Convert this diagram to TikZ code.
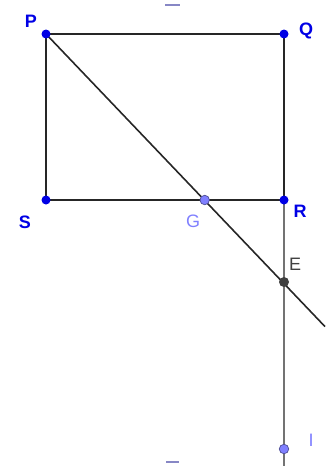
\documentclass[tikz,border=0pt]{standalone}
\usepackage{fontspec}
\setmainfont{Liberation Sans}
\begin{document}
\begin{tikzpicture}[x=1pt,y=-1pt,
  edge/.style={draw=black!85, line width=2pt},
  grayline/.style={draw=black!55, line width=2pt},
  diag/.style={draw=black!85, line width=1.6pt},
  bpt/.style={circle, fill=blue!90!black, inner sep=0pt, minimum size=9pt},
  lpt/.style={circle, fill=blue!50!white, draw=blue!40!black!70, line width=0.7pt, inner sep=0pt, minimum size=9.5pt},
  dpt/.style={circle, fill=black!75, inner sep=0pt, minimum size=10pt},
  blab/.style={text=blue!90!black, font=\fontsize{18}{18}\selectfont\bfseries, inner sep=0pt},
  llab/.style={text=blue!50!white, font=\fontsize{18}{18}\selectfont, inner sep=0pt},
  dlab/.style={text=black!75, font=\fontsize{18}{18}\selectfont, inner sep=0pt},
  tick/.style={draw=blue!35!gray!70, line width=1.6pt}]
\useasboundingbox (0,0) rectangle (325,466);
\coordinate (P) at (46,34);
\coordinate (Q) at (284,34);
\coordinate (R) at (284,200);
\coordinate (S) at (46,200);
\coordinate (G) at (204.7,200);
\coordinate (E) at (284,282);
\coordinate (I) at (284,449);
\coordinate (Bot) at (284,466);
\coordinate (DiagEnd) at (325,326.6);
\coordinate (t1a) at (165,5);
\coordinate (t1b) at (180,5);
\coordinate (t2a) at (166,462);
\coordinate (t2b) at (179,462);
% lines
\draw[grayline] (R) -- (Bot);
\draw[edge] (P) -- (Q) -- (R) -- (S) -- cycle;
\draw[diag] (P) -- (DiagEnd);
\draw[tick] (t1a) -- (t1b);
\draw[tick] (t2a) -- (t2b);
% points
\node[bpt] (nP) at (P) {};
\node[bpt] (nQ) at (Q) {};
\node[bpt] (nR) at (R) {};
\node[bpt] (nS) at (S) {};
\node[lpt] (nG) at (G) {};
\node[dpt] (nE) at (E) {};
\node[lpt] (nI) at (I) {};
% labels
\node[blab] (lP) at (31,21) {P};
\node[blab] (lQ) at (306,31) {Q};
\node[blab] (lR) at (300,211) {R};
\node[blab] (lS) at (25,222) {S};
\node[llab] (lG) at (193,221) {G};
\node[dlab] (lE) at (295,264) {E};
\node[llab] (lI) at (311,440) {I};
\end{tikzpicture}
\end{document}
